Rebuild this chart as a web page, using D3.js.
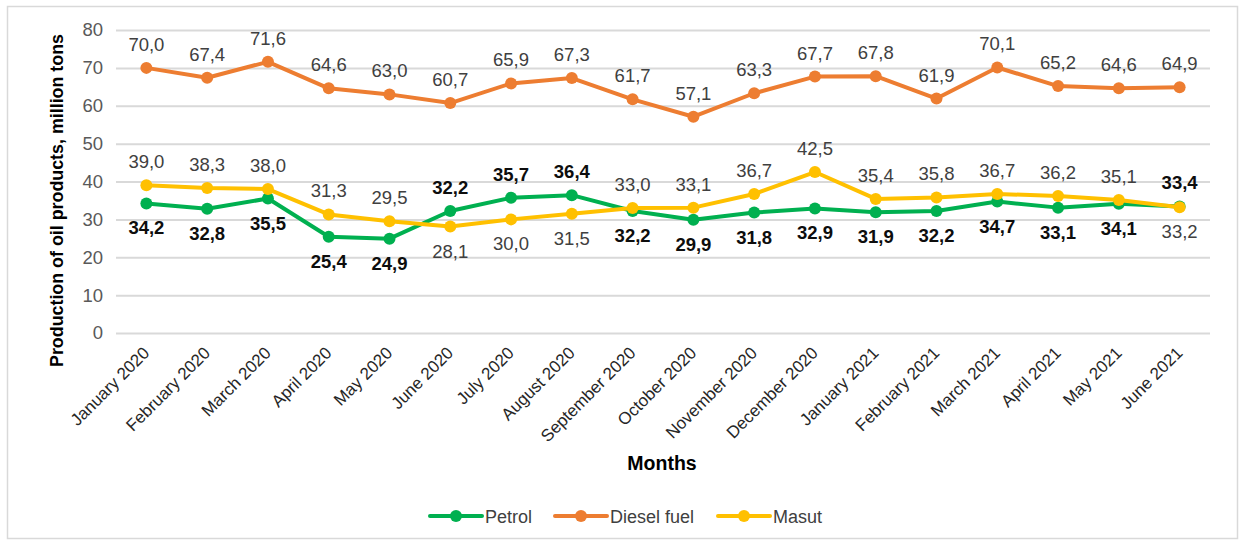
<!DOCTYPE html>
<html>
<head>
<meta charset="utf-8">
<script src="https://cdn.jsdelivr.net/npm/d3@7"></script>
<style>
  html, body { margin: 0; padding: 0; background: #fff; }
  svg text { font-family: "Liberation Sans", Arial, sans-serif; }
</style>
</head>
<body>
<svg id="chart" width="1240" height="543"></svg>
<script>
// Monthly production of oil products, million tons
const months = ["January 2020", "February 2020", "March 2020", "April 2020", "May 2020", "June 2020",
  "July 2020", "August 2020", "September 2020", "October 2020", "November 2020", "December 2020",
  "January 2021", "February 2021", "March 2021", "April 2021", "May 2021", "June 2021"];
const petrol = [34.2, 32.8, 35.5, 25.4, 24.9, 32.2, 35.7, 36.4, 32.2, 29.9, 31.8, 32.9, 31.9, 32.2, 34.7, 33.1, 34.1, 33.4];
const diesel = [70.0, 67.4, 71.6, 64.6, 63.0, 60.7, 65.9, 67.3, 61.7, 57.1, 63.3, 67.7, 67.8, 61.9, 70.1, 65.2, 64.6, 64.9];
const masut = [39.0, 38.3, 38.0, 31.3, 29.5, 28.1, 30.0, 31.5, 33.0, 33.1, 36.7, 42.5, 35.4, 35.8, 36.7, 36.2, 35.1, 33.2];
// label placement per point: 1 = above, -1 = below
const petrolLabelSide = [-1, -1, -1, -1, -1, 1, 1, 1, -1, -1, -1, -1, -1, -1, -1, -1, -1, 1];
const masutLabelSide = [1, 1, 1, 1, 1, -1, -1, -1, 1, 1, 1, 1, 1, 1, 1, 1, 1, -1];
const dieselLabelSide = months.map(() => 1);
const yTicks = [0, 10, 20, 30, 40, 50, 60, 70, 80];

const series = [
  { name: "Petrol", values: petrol, side: petrolLabelSide, color: "#00B050", bold: true },
  { name: "Diesel fuel", values: diesel, side: dieselLabelSide, color: "#ED7D31", bold: false },
  { name: "Masut", values: masut, side: masutLabelSide, color: "#FFC000", bold: false }
];

const svg = d3.select("#chart");
const plot = { left: 116, right: 1210, top: 30, bottom: 333 };

// outer frame
svg.append("rect")
  .attr("x", 7.5).attr("y", 6.5).attr("width", 1230).attr("height", 532)
  .attr("fill", "#fff").attr("stroke", "#d9d9d9").attr("stroke-width", 1.5);

const x = d3.scaleBand().domain(months).range([plot.left, plot.right]).padding(0);
const cx = m => x(m) + x.bandwidth() / 2;
const y = d3.scaleLinear().domain([0, 80]).range([plot.bottom, plot.top]);

// horizontal gridlines + y tick labels
const yAxis = d3.axisLeft(y).tickValues(yTicks).tickSize(-(plot.right - plot.left)).tickPadding(13).tickFormat(d3.format("d"));
const gy = svg.append("g").attr("transform", `translate(${plot.left},0)`).call(yAxis);
gy.select(".domain").remove();
gy.selectAll(".tick line").attr("stroke", "#d9d9d9").attr("stroke-width", 2);
gy.selectAll(".tick text").attr("fill", "#595959").style("font-size", "18.5px");

// x axis labels (rotated)
const xAxis = d3.axisBottom(x).tickSize(0).tickPadding(0);
const gx = svg.append("g").attr("transform", `translate(0,${plot.bottom})`).call(xAxis);
gx.select(".domain").remove();
gx.selectAll(".tick text")
  .attr("text-anchor", "end")
  .attr("dy", 0)
  .attr("y", 0)
  .attr("transform", "translate(4,21) rotate(-45)")
  .attr("fill", "#262626")
  .style("font-size", "17px");

// axis titles
svg.append("text")
  .attr("transform", `translate(63,${(plot.top + plot.bottom) / 2 + 19}) rotate(-90)`)
  .attr("text-anchor", "middle")
  .attr("fill", "#000")
  .attr("font-weight", "bold")
  .attr("textLength", 333)
  .attr("lengthAdjust", "spacingAndGlyphs")
  .style("font-size", "18.5px")
  .text("Production of oil products, million tons");

svg.append("text")
  .attr("x", 662).attr("y", 470)
  .attr("text-anchor", "middle")
  .attr("fill", "#000")
  .attr("font-weight", "bold")
  .style("font-size", "19.5px")
  .text("Months");

// lines, markers, labels
const line = d3.line().x((d, i) => cx(months[i])).y(d => y(d));
const drawOrder = [series[1], series[0], series[2]];
drawOrder.forEach(s => {
  const g = svg.append("g");
  g.append("path").datum(s.values)
    .attr("d", line).attr("fill", "none")
    .attr("stroke", s.color).attr("stroke-width", 4).attr("stroke-linejoin", "round").attr("stroke-linecap", "round");
  g.selectAll("circle").data(s.values).join("circle")
    .attr("cx", (d, i) => cx(months[i])).attr("cy", d => y(d))
    .attr("r", 6).attr("fill", s.color);
});
series.forEach(s => {
  svg.append("g").selectAll("text").data(s.values).join("text")
    .attr("x", (d, i) => cx(months[i]))
    .attr("y", (d, i) => y(d) + (s.side[i] > 0 ? -17 : 31))
    .attr("text-anchor", "middle")
    .attr("fill", s.bold ? "#0d0d0d" : "#404040")
    .attr("font-weight", s.bold ? "bold" : "normal")
    .style("font-size", "18.5px")
    .text(d => d.toFixed(1).replace(".", ","));
});

// legend
const legendItems = [
  { s: series[0], x0: 430 },
  { s: series[1], x0: 555 },
  { s: series[2], x0: 718 }
];
const ly = 516;
legendItems.forEach(({ s, x0 }) => {
  const g = svg.append("g");
  g.append("line").attr("x1", x0).attr("x2", x0 + 52).attr("y1", ly).attr("y2", ly)
    .attr("stroke", s.color).attr("stroke-width", 4).attr("stroke-linecap", "round");
  g.append("circle").attr("cx", x0 + 26).attr("cy", ly).attr("r", 6).attr("fill", s.color);
  g.append("text").attr("x", x0 + 55).attr("y", ly + 6.5)
    .attr("fill", "#404040").style("font-size", "18px").text(s.name);
});
</script>
</body>
</html>
